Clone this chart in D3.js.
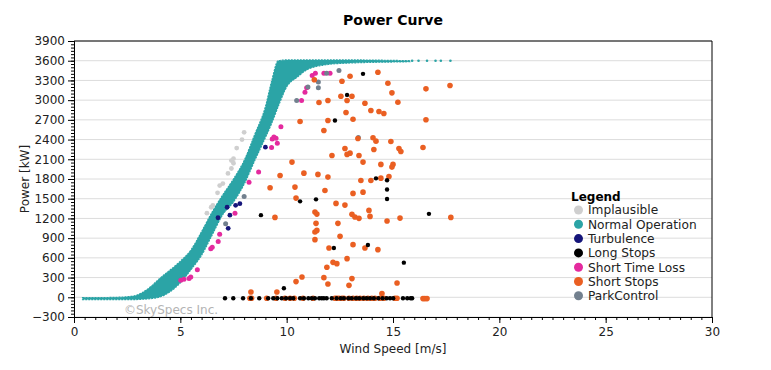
<!DOCTYPE html>
<html>
<head>
<meta charset="utf-8">
<script src="https://cdn.jsdelivr.net/npm/d3@7"></script>
<style>
body { margin: 0; background: #fff; }
svg { font-family: "DejaVu Sans", sans-serif; }
</style>
</head>
<body>
<svg id="chart"></svg>
<script>
var width = 771,
    height = 370;
var margin = {top: 41, right: 59, bottom: 53, left: 74};

// axis ticks
var xTicks = [0, 5, 10, 15, 20, 25, 30];
var yTicks = [-300, 0, 300, 600, 900, 1200, 1500, 1800, 2100, 2400, 2700, 3000, 3300, 3600, 3900];

// normal operation cloud, read as an envelope: wind speed, lower and upper power
var bandWind = [0.4, 1, 2, 2.8, 3.2, 3.6, 4.0, 4.5, 5.0, 5.5, 6.0, 6.5, 7.0, 7.5, 8.0, 8.5, 9.0, 9.3, 9.6, 10.0, 10.5, 11.0, 12.0, 13.0, 14.0, 15.0, 15.8];
var bandLow  = [-35, -35, -35, -35, -30, -20, 0, 80, 220, 420, 640, 950, 1260, 1450, 1720, 2080, 2430, 2650, 2900, 3200, 3350, 3470, 3545, 3565, 3575, 3580, 3585];
var bandHigh = [-5, -5, 0, 20, 70, 160, 280, 410, 550, 720, 1000, 1300, 1560, 1800, 2080, 2480, 2900, 3300, 3600, 3612, 3612, 3612, 3612, 3612, 3610, 3605, 3600];
var normalSparse = [[15.9, 3600], [16.2, 3600], [16.6, 3600], [17.0, 3600], [17.25, 3600], [17.7, 3600]];

var implausible = [[8.0, 2510], [7.9, 2400], [7.65, 2270], [7.5, 2110], [7.4, 2080], [7.5, 2040], [7.4, 1960],
  [7.24, 1885], [7.0, 1730], [6.85, 1700], [6.75, 1590], [6.53, 1400], [6.45, 1370], [6.25, 1280]];

var turbulence = [[6.77, 1210], [7.2, 1370], [7.33, 1250], [7.6, 1400], [7.8, 1425], [7.25, 1050], [9.0, 2285]];

var longStops = [[13.59, 3400], [12.84, 3080], [12.27, 2690], [14.2, 1810], [14.72, 1780], [14.72, 1640], [14.72, 1495],
  [11.38, 1490], [10.63, 1460], [8.79, 1250], [16.69, 1270], [13.82, 795], [12.22, 750], [15.51, 527], [9.87, 137],
  [7.1, -15], [7.49, -15], [7.95, -15], [8.32, -15], [8.71, -15], [9.13, -15], [9.37, -15], [9.56, -15], [9.77, -15],
  [9.97, -15], [10.16, -15], [10.31, -15], [10.63, -15], [10.81, -15], [11.02, -15], [11.18, -15], [11.33, -15],
  [11.53, -15], [11.65, -15], [11.75, -15], [11.88, -15], [12.12, -15], [12.35, -15], [12.54, -15], [12.69, -15],
  [12.9, -15], [13.06, -15], [13.26, -15], [13.41, -15], [13.6, -15], [13.76, -15], [13.92, -15], [14.1, -15],
  [14.31, -15], [14.51, -15], [14.7, -15], [14.86, -15], [15.01, -15], [15.47, -15], [15.67, -15], [15.83, -15], [15.9, -15]];

var shortTimeLoss = [[5.02, 260], [5.17, 275], [5.41, 285], [5.49, 310], [5.8, 420], [6.43, 740], [6.5, 760], [6.78, 850],
  [6.85, 960], [7.57, 1280], [8.23, 1750], [8.68, 1905], [9.29, 2280], [9.32, 2410], [9.4, 2440], [9.5, 2420], [9.56, 2345],
  [9.73, 2595], [10.7, 2995], [10.86, 3120], [10.94, 3190], [11.2, 3375], [11.35, 3410], [11.75, 3410], [12.04, 3410]];

var shortStops = [[12.98, 3364], [14.29, 3425], [12.6, 3288], [11.3, 3310], [14.76, 3257], [17.68, 3222], [16.55, 3172],
  [14.95, 3111], [12.55, 3060], [13.07, 3060], [11.52, 2964], [11.94, 2994], [12.84, 2994], [13.68, 2953], [15.23, 2969],
  [12.79, 2812], [13.96, 2842], [14.34, 2827], [14.57, 2797], [10.63, 2675], [11.94, 2690], [13.12, 2710], [16.55, 2701],
  [11.75, 2538], [13.35, 2417], [14.06, 2427], [14.2, 2376], [14.9, 2371], [16.41, 2280], [12.74, 2265], [15.28, 2265],
  [15.37, 2219], [12.13, 2158], [12.84, 2174], [12.98, 2193], [13.4, 2158], [14.1, 2250], [10.25, 2057], [13.59, 2057],
  [14.43, 2022], [15.0, 2022], [14.95, 1981], [9.69, 1854], [10.81, 1889], [11.47, 1870], [11.94, 1829], [13.49, 1778],
  [13.96, 1778], [14.43, 1813], [14.81, 1839], [9.22, 1667], [10.39, 1677], [11.8, 1626], [13.12, 1581], [13.59, 1600],
  [10.44, 1509], [12.32, 1429], [12.74, 1403], [11.33, 1297], [11.42, 1266], [9.45, 1216], [13.07, 1262], [13.21, 1221],
  [13.4, 1201], [13.87, 1322], [13.92, 1231], [14.72, 1160], [15.33, 1205], [17.72, 1216], [11.38, 1125], [12.41, 1125],
  [11.33, 993], [11.42, 1018], [12.51, 927], [11.33, 877], [11.99, 749], [13.12, 801], [13.68, 749], [14.29, 725],
  [12.84, 588], [12.18, 532], [12.36, 512], [11.89, 456], [11.75, 299], [10.72, 309], [10.44, 239], [11.94, 202],
  [13.07, 284], [12.93, 182], [15.19, 217], [8.32, 81], [9.54, 81], [14.48, 56],
  [8.27, -15], [8.35, -15], [9.06, -15], [9.5, -15], [9.92, -15], [10.16, -15], [10.36, -15], [10.77, -15], [11.24, -15],
  [12.27, -15], [12.36, -15], [12.46, -15], [12.6, -15], [12.69, -15], [12.93, -15], [13.12, -15], [13.29, -15],
  [13.45, -15], [13.63, -15], [13.82, -15], [14.0, -15], [14.15, -15], [14.39, -15], [14.57, -15], [15.09, -15],
  [15.19, -15], [16.41, -20], [16.5, -20], [16.6, -20]];

var parkControl = [[7.13, 1120], [8.0, 1535], [10.47, 2995], [11.0, 3200], [11.49, 3275], [11.49, 3190], [11.88, 3410],
  [12.46, 3450], [13.37, 2430]];

var legendNames = ["Implausible", "Normal Operation", "Turbulence", "Long Stops", "Short Time Loss", "Short Stops", "ParkControl"];
var legendColors = ["#cfcfcf", "#2ba4a6", "#15157a", "#000000", "#e42a9e", "#ea5f22", "#72808e"];

var svg = d3.select('#chart')
            .attr('width', width)
            .attr('height', height);

var innerW = width - margin.left - margin.right,
    innerH = height - margin.top - margin.bottom;

var x = d3.scaleLinear().domain([0, 30]).range([0, innerW]);
var y = d3.scaleLinear().domain([-300, 3900]).range([innerH, 0]);

var g = svg.append('g')
           .attr('transform', 'translate(' + margin.left + ',' + margin.top + ')');

// title
svg.append('text')
   .attr('x', 393).attr('y', 25)
   .attr('text-anchor', 'middle')
   .style('font-weight', 'bold')
   .style('font-size', '14px')
   .text('Power Curve');

// grid
g.selectAll('.grid')
 .data(yTicks)
 .enter().append('line')
   .attr('x1', 0).attr('x2', innerW)
   .attr('y1', d => y(d)).attr('y2', d => y(d))
   .attr('stroke', '#dcdcdc')
   .attr('stroke-width', 1);

// watermark
g.append('text')
 .attr('x', x(2.35)).attr('y', y(-250))
 .style('font-size', '12px')
 .attr('fill', '#b4b4b4')
 .text('\u00A9SkySpecs Inc.');

// normal operation envelope
var bandData = bandWind.map((w, i) => ({w: w, lo: bandLow[i], hi: bandHigh[i]}));
var area = d3.area()
             .x(d => x(d.w))
             .y0(d => y(d.lo))
             .y1(d => y(d.hi))
             .curve(d3.curveMonotoneX);
g.append('path')
 .datum(bandData)
 .attr('d', area)
 .attr('fill', '#2ba4a6')
 .attr('stroke', '#2ba4a6')
 .attr('stroke-width', 1.2)
 .attr('stroke-dasharray', '2,1');

g.selectAll('.sparse')
 .data(normalSparse)
 .enter().append('circle')
   .attr('cx', d => x(d[0])).attr('cy', d => y(d[1]))
   .attr('r', 1.3)
   .attr('fill', '#2ba4a6');

function drawPoints(data, color, r) {
  g.append('g').selectAll('circle')
   .data(data)
   .enter().append('circle')
     .attr('cx', d => x(d[0]))
     .attr('cy', d => y(d[1]))
     .attr('r', r)
     .attr('fill', color);
}

drawPoints(implausible, legendColors[0], 2.4);
drawPoints(turbulence, legendColors[2], 2.4);
drawPoints(shortTimeLoss, legendColors[4], 2.5);
drawPoints(parkControl, legendColors[6], 2.5);
drawPoints(shortStops, legendColors[5], 2.8);
drawPoints(longStops, legendColors[3], 2.2);

// axes
g.append('g')
 .attr('transform', 'translate(0,' + innerH + ')')
 .call(d3.axisBottom(x).tickValues(xTicks).tickSize(6).tickPadding(4));
g.append('g')
 .attr('transform', 'translate(0,' + innerH + ')')
 .call(d3.axisBottom(x).tickValues(d3.range(0, 30.01, 0.5)).tickSize(3).tickFormat(''));

g.append('g')
 .call(d3.axisLeft(y).tickValues(yTicks).tickSize(6).tickPadding(3).tickFormat(d3.format('d')));
g.append('g')
 .call(d3.axisLeft(y).tickValues(d3.range(-300, 3901, 50)).tickSize(3).tickFormat(''));

svg.selectAll('.tick text')
   .style('font-size', '12px')
   .style('font-family', '"DejaVu Sans", sans-serif')
   .attr('fill', '#222');
svg.selectAll('.domain').attr('stroke', '#000');

// frame top and right
g.append('line').attr('x1', 0).attr('x2', innerW).attr('y1', 0).attr('y2', 0).attr('stroke', '#000');
g.append('line').attr('x1', innerW).attr('x2', innerW).attr('y1', 0).attr('y2', innerH).attr('stroke', '#000');

// axis titles
svg.append('text')
   .attr('x', margin.left + innerW / 2).attr('y', 353)
   .attr('text-anchor', 'middle')
   .style('font-size', '12px')
   .attr('fill', '#222')
   .text('Wind Speed [m/s]');
svg.append('text')
   .attr('transform', 'translate(29,' + (margin.top + innerH / 2) + ') rotate(-90)')
   .attr('text-anchor', 'middle')
   .style('font-size', '12px')
   .attr('fill', '#222')
   .text('Power [kW]');

// legend
var legend = svg.append('g').attr('transform', 'translate(571,0)');
legend.append('text')
      .attr('x', 0).attr('y', 201)
      .style('font-weight', 'bold')
      .style('font-size', '12px')
      .text('Legend');
var items = legend.selectAll('.item')
                  .data(legendNames)
                  .enter().append('g')
                  .attr('transform', (d, i) => 'translate(0,' + (210 + i * 14.3) + ')');
items.append('circle')
     .attr('cx', 7.5).attr('cy', 0).attr('r', 4.5)
     .attr('fill', (d, i) => legendColors[i]);
items.append('text')
     .attr('x', 17).attr('y', 4.3)
     .style('font-size', '12.2px')
     .attr('fill', '#222')
     .text(d => d);
</script>
</body>
</html>
